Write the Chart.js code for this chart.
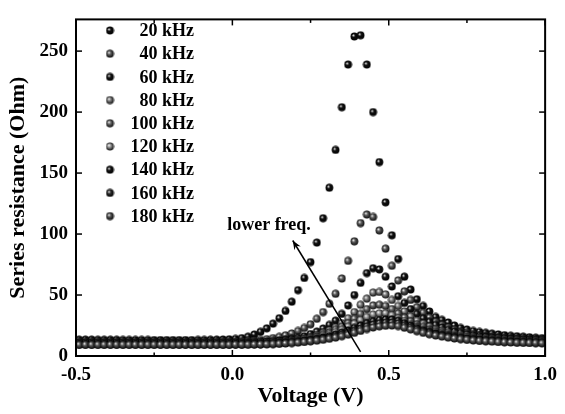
<!DOCTYPE html>
<html><head><meta charset="utf-8">
<script src="https://cdn.jsdelivr.net/npm/chart.js@4.4.0/dist/chart.umd.min.js"></script>
<style>html,body{margin:0;padding:0;background:#fff}canvas{display:block}</style>
</head><body><canvas id="c" width="565" height="414"></canvas>
<script>
const volts = [-0.49,-0.47,-0.45,-0.43,-0.41,-0.39,-0.37,-0.35,-0.33,-0.31,-0.29,-0.27,-0.25,-0.23,-0.21,-0.19,-0.17,-0.15,-0.13,-0.11,-0.09,-0.07,-0.05,-0.03,-0.01,
 0.01,0.03,0.05,0.07,0.09,0.11,0.13,0.15,0.17,0.19,0.21,0.23,0.25,0.27,0.29,0.31,0.33,0.35,0.37,0.39,0.41,0.43,0.45,0.47,0.49,
 0.51,0.53,0.55,0.57,0.59,0.61,0.63,0.65,0.67,0.69,0.71,0.73,0.75,0.77,0.79,0.81,0.83,0.85,0.87,0.89,0.91,0.93,0.95,0.97,0.99];

const labels = ['20 kHz','40 kHz','60 kHz','80 kHz','100 kHz','120 kHz','140 kHz','160 kHz','180 kHz'];

const r20 = [13.4,13.4,13.4,13.3,13.3,13.3,13.3,13.2,13.2,13.2,13.2,13.2,13.1,13.1,13.1,13.1,13.1,13.1,13.1,13.2,13.2,13.3,13.4,13.5,13.7,
 14.0,14.7,15.8,17.6,19.8,22.7,26.5,31,37,44.5,54,64,77,93,113,138,169,204,239,262,263,239,200,159,126,
 99,79.5,65,54.5,46.5,41,36.5,32,29.6,27.5,25,23,21.7,20.5,19.7,19,18.3,17.7,17.1,16.6,16.2,15.8,15.4,15,14.7];
const r40 = [11.6,11.6,11.6,11.6,11.6,11.5,11.5,11.5,11.5,11.5,11.5,11.5,11.5,11.5,11.5,11.5,11.5,11.5,11.5,11.5,11.6,11.6,11.6,11.7,11.7,
 11.8,12,12.3,12.7,13.2,13.8,14.7,15.7,17,18.5,20.5,23,26,30.5,36,42.8,51,63.5,78,94,109,116,114,103,88,
 74,62,53,46,40,35.5,31.5,28,25.5,23.5,21.5,20,19,18,17.2,16.5,16,15.5,15,14.7,14.4,14.1,13.9,13.7,13.5];
const r60 = [11.1,11.1,11.1,11.0,11.0,11.0,11.0,11.0,11.0,11.0,11.0,11.0,11.0,11.0,11.0,11.0,11.0,11.0,11.0,11.0,11.0,11.0,11.0,11.0,11.0,
 11.1,11.2,11.3,11.5,11.7,12,12.4,12.8,13.3,14,15,16.2,18,20,22.5,25.5,29,34.5,41.5,50,60,68,72,71,65,
 57,49,43.5,38.5,34.5,31,28,25.5,23.5,21.5,20,19,18,17.2,16.5,16,15.4,15,14.6,14.2,13.9,13.6,13.4,13.2,13];
const r80 = [10.5,10.5,10.5,10.5,10.5,10.5,10.5,10.5,10.5,10.5,10.5,10.5,10.5,10.5,10.5,10.5,10.5,10.5,10.5,10.5,10.5,10.5,10.5,10.5,10.5,
 10.5,10.6,10.7,10.8,10.9,11.1,11.4,11.8,12.3,12.8,13.5,14.3,15.5,17,19,21,23.5,27,31,36,42,47,52,52.5,50.5,
 46,41,36.5,32.5,29,26.5,24,22,20.5,19.2,18,17.1,16.4,15.7,15.2,14.7,14.3,14,13.6,13.3,13.1,12.9,12.7,12.5,12.3];
const r100 = [10.1,10.1,10.1,10.1,10.1,10.1,10.1,10.1,10.1,10.1,10.1,10.1,10.1,10.1,10.1,10.1,10.1,10.1,10.1,10.1,10.1,10.1,10.1,10.1,10.1,
 10.1,10.1,10.2,10.3,10.5,10.7,11,11.4,11.8,12.3,13,13.8,14.8,16,17.5,19.3,21.5,24,27,30.5,34.5,38.5,41.5,42,41,
 38.5,35,31.5,28.5,26,23.8,22,20.5,19.2,18,17,16.2,15.5,15,14.5,14.1,13.7,13.4,13.1,12.8,12.6,12.4,12.2,12.1,12];
const r120 = [9.9,9.9,9.9,9.9,9.9,9.9,9.9,9.9,9.9,9.9,9.9,9.9,9.9,9.9,9.9,9.9,9.9,9.9,9.9,9.9,9.9,9.9,9.9,9.9,9.9,
 9.9,10,10,10.1,10.3,10.5,10.8,11.1,11.5,12,12.5,13.2,14,15,16.3,17.8,19.5,21.5,24,26.5,29.5,32,34,35,35,
 33.5,31,28.5,26,24,22,20.5,19.2,18,17,16.2,15.5,14.9,14.4,14,13.6,13.2,12.9,12.6,12.4,12.2,12,11.8,11.6,11.5];
const r140 = [9.7,9.7,9.7,9.7,9.7,9.7,9.7,9.7,9.7,9.7,9.7,9.7,9.7,9.7,9.7,9.7,9.7,9.7,9.7,9.7,9.7,9.7,9.7,9.7,9.7,
 9.8,9.8,9.9,10,10.1,10.3,10.5,10.8,11.2,11.6,12.1,12.7,13.4,14.2,15.2,16.3,17.6,19.2,21,23,25,27,28.5,29.5,30,
 30,29,27,25,23,21.2,19.8,18.5,17.4,16.5,15.7,15,14.4,13.9,13.5,13.1,12.8,12.5,12.2,12,11.8,11.6,11.5,11.3,11.2];
const r160 = [9.4,9.4,9.4,9.4,9.4,9.4,9.4,9.4,9.4,9.4,9.4,9.4,9.4,9.4,9.4,9.4,9.4,9.4,9.4,9.4,9.4,9.4,9.4,9.4,9.4,
 9.5,9.5,9.6,9.6,9.7,9.9,10.1,10.4,10.7,11.1,11.6,12.1,12.7,13.4,14.2,15.2,16.3,17.6,19.1,20.8,22.6,24.3,25.8,26.8,27.3,
 27.5,26.8,25.2,23.5,21.8,20.3,19,17.8,16.8,15.9,15.1,14.5,13.9,13.4,13,12.6,12.3,12,11.7,11.5,11.3,11.1,11,10.9,10.8];
const r180 = [9.2,9.2,9.2,9.2,9.2,9.2,9.2,9.2,9.2,9.2,9.2,9.2,9.2,9.2,9.2,9.2,9.2,9.2,9.2,9.2,9.2,9.2,9.2,9.2,9.2,
 9.3,9.3,9.3,9.4,9.5,9.6,9.8,10,10.3,10.6,11,11.5,12,12.6,13.3,14.1,15.1,16.2,17.5,19,20.6,22.1,23.4,24.3,24.8,
 25,24.5,23.2,21.8,20.3,19,17.8,16.8,15.9,15.1,14.4,13.8,13.3,12.8,12.4,12.1,11.8,11.5,11.3,11.1,10.9,10.8,10.7,10.6,10.5];

const series = [r20, r40, r60, r80, r100, r120, r140, r160, r180];
const xTicks = [-0.5, 0.0, 0.5, 1.0];
const xMinor = [-0.25, 0.25, 0.75];
const yTicks = [0, 50, 100, 150, 200, 250];

const baseColors = ['#101010','#5e5e5e','#141414','#858585','#6c6c6c','#9a9a9a','#121212','#2c2c2c','#585858'];

const FONT = 'Liberation Serif, "Times New Roman", serif';

function sphere(base){
  const c = document.createElement('canvas');
  c.width = 9; c.height = 9;
  const g = c.getContext('2d');
  const grad = g.createRadialGradient(3.3,3.2,0.2,4.5,4.5,4.3);
  grad.addColorStop(0,'#f4f4f4');
  grad.addColorStop(0.35,base);
  grad.addColorStop(1,'#000');
  g.fillStyle = grad;
  g.beginPath(); g.arc(4.5,4.5,3.9,0,Math.PI*2); g.fill();
  return c;
}
const sprites = baseColors.map(sphere);

const datasets = series.map((vals,i)=>({
  label: labels[i],
  data: volts.map((v,k)=>({x:v, y:vals[k]})),
  pointStyle: sprites[i],
  pointRadius: 4,
  showLine: false,
  order: series.length - 1 - i
}));

const frame = {
  id:'frame',
  afterDatasetsDraw(chart){
    const {ctx, chartArea:a, scales:{x,y}} = chart;
    ctx.save();
    ctx.strokeStyle = '#000';
    ctx.lineWidth = 2;
    ctx.strokeRect(a.left, a.top, a.right-a.left, a.bottom-a.top);
    ctx.lineWidth = 1.5;
    const ln=(x1,y1,x2,y2)=>{ctx.beginPath();ctx.moveTo(x1,y1);ctx.lineTo(x2,y2);ctx.stroke();};
    xTicks.forEach(v=>{const p=x.getPixelForValue(v); ln(p,a.bottom,p,a.bottom-6); ln(p,a.top,p,a.top+6);});
    xMinor.forEach(v=>{const p=x.getPixelForValue(v); ln(p,a.bottom,p,a.bottom-3.5); ln(p,a.top,p,a.top+3.5);});
    yTicks.forEach(v=>{const p=y.getPixelForValue(v); ln(a.left,p,a.left+6,p); ln(a.right,p,a.right-6,p);});
    ctx.restore();
  },
  afterDraw(chart){
    const {ctx, scales:{x,y}} = chart;
    ctx.save();
    // legend
    ctx.font = 'bold 18px ' + FONT;
    ctx.fillStyle = '#000';
    ctx.textAlign = 'right';
    ctx.textBaseline = 'middle';
    labels.forEach((t,i)=>{
      const cy = 30.5 + i*23.2;
      ctx.drawImage(sprites[i], 110-4.5, cy-4.5);
      ctx.fillText(t, 194, cy+1);
    });
    // annotation text
    ctx.textAlign = 'center';
    ctx.fillText('lower freq.', x.getPixelForValue(0.117), y.getPixelForValue(107));
    // arrow
    const x1 = x.getPixelForValue(0.41), y1 = y.getPixelForValue(3.4);
    const x2 = x.getPixelForValue(0.193), y2 = y.getPixelForValue(94.7);
    ctx.strokeStyle = '#000'; ctx.lineWidth = 1.5;
    ctx.beginPath(); ctx.moveTo(x1,y1); ctx.lineTo(x2,y2); ctx.stroke();
    const ang = Math.atan2(y2-y1, x2-x1), L = 10, w = 0.38;
    ctx.beginPath();
    ctx.moveTo(x2,y2);
    ctx.lineTo(x2 - L*Math.cos(ang-w), y2 - L*Math.sin(ang-w));
    ctx.lineTo(x2 - 0.6*L*Math.cos(ang), y2 - 0.6*L*Math.sin(ang));
    ctx.lineTo(x2 - L*Math.cos(ang+w), y2 - L*Math.sin(ang+w));
    ctx.closePath(); ctx.fillStyle='#000'; ctx.fill();
    ctx.restore();
  }
};

new Chart(document.getElementById('c'), {
  type: 'scatter',
  data: { datasets },
  options: {
    responsive: false,
    devicePixelRatio: 1,
    animation: false,
    layout: { padding: { top: 5, right: 10, left: 0, bottom: 0 } },
    plugins: { legend: { display: false }, tooltip: { enabled: false } },
    scales: {
      x: {
        type: 'linear', min: -0.5, max: 1.0,
        afterBuildTicks: s => { s.ticks = xTicks.map(v => ({ value: v })); },
        afterFit: s => { s.height = 58; },
        ticks: { callback: v => Number(v).toFixed(1), color: '#000', padding: 8, maxRotation: 0, autoSkip: false,
                 font: { family: FONT, size: 19, weight: 'bold' } },
        grid: { display: false, drawTicks: false },
        border: { display: false },
        title: { display: true, text: 'Voltage (V)', color: '#000', padding: { top: 0, bottom: 4 },
                 font: { family: FONT, size: 22, weight: 'bold' } }
      },
      y: {
        min: 0, max: 276,
        afterBuildTicks: s => { s.ticks = yTicks.map(v => ({ value: v })); },
        afterFit: s => { s.width = 76; },
        ticks: { callback: v => String(v), color: '#000', padding: 8,
                 font: { family: FONT, size: 19, weight: 'bold' } },
        grid: { display: false, drawTicks: false },
        border: { display: false },
        title: { display: true, text: 'Series resistance (Ohm)', color: '#000', padding: 5,
                 font: { family: FONT, size: 22, weight: 'bold' } }
      }
    }
  },
  plugins: [frame]
});
</script>
</body></html>
